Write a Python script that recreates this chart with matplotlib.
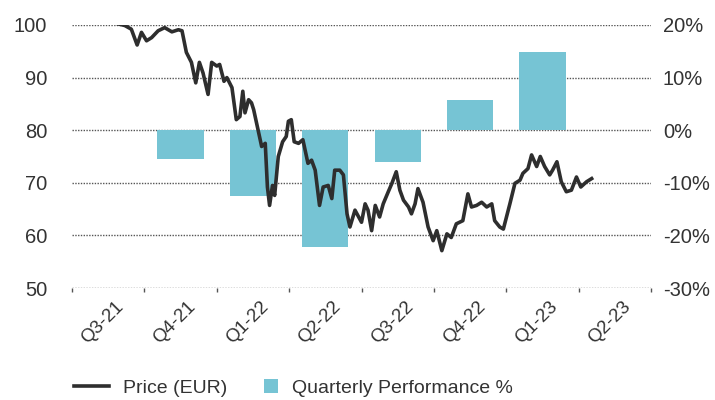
import matplotlib
matplotlib.use("Agg")
import matplotlib.pyplot as plt
import matplotlib.transforms as mtransforms
from matplotlib.lines import Line2D
from matplotlib.patches import Patch, Rectangle
from matplotlib.legend_handler import HandlerPatch
import numpy as np

plt.rcParams['font.family'] = ['Liberation Sans', 'DejaVu Sans']

# Quarter labels (each label spans one quarter interval)
quarters = ["Q3-21", "Q4-21", "Q1-22", "Q2-22", "Q3-22", "Q4-22", "Q1-23", "Q2-23"]

# Quarterly performance (%) for quarters with data
perf_quarters = ["Q4-21", "Q1-22", "Q2-22", "Q3-22", "Q4-22", "Q1-23"]
perf_values = [-5.5, -12.6, -22.3, -6.0, 5.7, 14.8]

# Price series: time in quarters since start of Q3-21, price in EUR
price_t = [0.64, 0.73, 0.82, 0.90, 0.96, 1.03, 1.10, 1.19, 1.28, 1.38, 1.47, 1.52,
           1.58, 1.65, 1.71, 1.76, 1.81, 1.88, 1.93, 2.00, 2.04, 2.10, 2.14, 2.21,
           2.27, 2.32, 2.36, 2.39, 2.44, 2.48, 2.51, 2.60, 2.62, 2.67, 2.70, 2.73,
           2.77, 2.80, 2.85, 2.91, 2.96, 2.99, 3.03, 3.07, 3.13, 3.19, 3.26, 3.31,
           3.36, 3.42, 3.47, 3.54, 3.59, 3.63, 3.70, 3.75, 3.80, 3.84, 3.91, 4.00,
           4.05, 4.09, 4.14, 4.19, 4.25, 4.30, 4.37, 4.42, 4.48, 4.53, 4.58, 4.65,
           4.69, 4.74, 4.78, 4.85, 4.92, 4.99, 5.04, 5.11, 5.18, 5.24, 5.31, 5.40,
           5.47, 5.52, 5.59, 5.66, 5.73, 5.80, 5.84, 5.91, 5.96, 6.05, 6.12, 6.19,
           6.23, 6.30, 6.35, 6.42, 6.47, 6.53, 6.60, 6.64, 6.70, 6.76, 6.83, 6.90,
           6.97, 7.03, 7.11, 7.18]
price = [100.2, 99.9, 99.2, 96.2, 98.6, 97.0, 97.6, 98.9, 99.5, 98.7, 99.1, 98.9,
         94.8, 92.9, 89.0, 92.9, 90.9, 86.8, 92.9, 92.2, 92.5, 89.3, 90.0, 88.1,
         82.0, 82.6, 87.4, 83.3, 85.8, 85.2, 83.9, 78.2, 76.9, 77.5, 69.2, 65.7,
         69.5, 67.6, 75.0, 77.8, 78.8, 81.7, 82.0, 77.8, 77.5, 78.2, 73.7, 74.3,
         72.4, 65.7, 69.2, 69.5, 67.0, 72.4, 72.4, 71.5, 64.1, 61.6, 64.8, 62.5,
         66.0, 64.8, 60.9, 65.7, 63.5, 66.0, 68.3, 69.9, 72.1, 68.6, 66.7, 65.4,
         64.1, 66.0, 68.9, 66.3, 61.6, 59.0, 60.9, 57.1, 60.3, 59.6, 62.2, 62.8,
         67.9, 65.4, 65.7, 66.3, 65.4, 66.0, 62.8, 61.6, 61.2, 66.0, 69.9, 70.5,
         71.8, 72.7, 75.3, 73.1, 75.0, 73.1, 71.5, 72.4, 74.0, 70.2, 68.3, 68.6,
         71.1, 69.2, 70.2, 70.8]

left_ticks = [50, 60, 70, 80, 90, 100]
right_ticks = [-30, -20, -10, 0, 10, 20]

text_color = "#333333"
bar_color = "#76c4d4"
line_color = "#2e2e2e"
grid_color = "#555555"

fig = plt.figure(figsize=(7.15, 4.0), dpi=100)
ax = fig.add_axes([0.1007, 0.28, 0.8098, 0.6575])
ax2 = ax.twinx()

# bars on the secondary axis (behind), line on the primary (front)
ax.set_zorder(ax2.get_zorder() + 1)
ax.patch.set_visible(False)

bar_x = [quarters.index(q) + 0.5 for q in perf_quarters]
ax2.bar(bar_x, perf_values, width=0.64, color=bar_color, zorder=2)
ax2.set_ylim(-30, 20)
ax2.set_yticks(right_ticks)
ax2.set_yticklabels([f"{v}%" for v in right_ticks])
ax2.set_axisbelow(True)
ax2.yaxis.grid(True, color=grid_color, linestyle=(0, (1, 1)), linewidth=1.0)

ax.plot(price_t, price, color=line_color, linewidth=2.6, solid_joinstyle='round')
ax.set_ylim(50, 100)
ax.set_yticks(left_ticks)
ax.set_xlim(0, len(quarters))

ax.set_xticks(np.arange(len(quarters) + 1))
ax.set_xticklabels([])
ax.set_xticks(np.arange(len(quarters)) + 0.5, minor=True)
ax.set_xticklabels(quarters, minor=True, rotation=45, ha='center', va='top')
ax.tick_params(axis='x', which='major', length=3, color=grid_color, width=1)
ax.tick_params(axis='x', which='minor', length=0, pad=7.5, labelsize=13.5, labelcolor=text_color)
ax.tick_params(axis='y', length=0, pad=18, labelsize=14.5, labelcolor=text_color)
ax2.tick_params(axis='y', length=0, pad=8.5, labelsize=14.5, labelcolor=text_color)

offset = mtransforms.ScaledTranslation(-4 / 72, 0, fig.dpi_scale_trans)
for lab in ax.get_xticklabels(minor=True):
    lab.set_transform(lab.get_transform() + offset)

for a in (ax, ax2):
    for s in a.spines.values():
        s.set_visible(False)


class SquareHandler(HandlerPatch):
    def create_artists(self, legend, orig_handle, xdescent, ydescent, width, height,
                       fontsize, trans):
        s = 10.0
        r = Rectangle((-xdescent + width - s, -ydescent + (height - s) / 2), s, s,
                      facecolor=orig_handle.get_facecolor(), edgecolor='none',
                      transform=trans)
        return [r]


handles = [Line2D([0], [0], color=line_color, linewidth=2.6),
           Patch(facecolor=bar_color)]
fig.legend(handles, ["Price (EUR)", "Quarterly Performance %"], loc='center left',
           bbox_to_anchor=(0.0797, 0.03), ncol=2, frameon=False, fontsize=14,
           handlelength=1.8, handletextpad=0.7, columnspacing=0.8, labelcolor=text_color,
           handler_map={Patch: SquareHandler()})

fig.savefig("out.png", dpi=100)
